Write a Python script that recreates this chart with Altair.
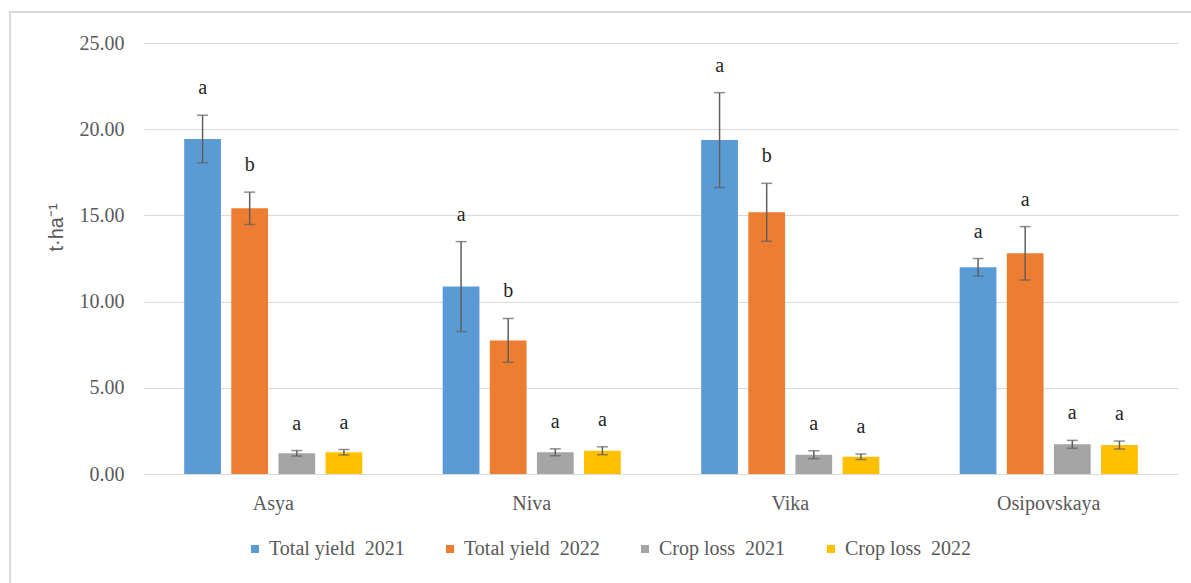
import altair as alt
import pandas as pd

varieties = ["Asya", "Niva", "Vika", "Osipovskaya"]
series = ["Total yield\u00a0 2021", "Total yield\u00a0 2022", "Crop loss\u00a0 2021", "Crop loss\u00a0 2022"]
colors = ["#5B9BD5", "#ED7D31", "#A5A5A5", "#FFC000"]

total_2021 = [19.43, 10.87, 19.37, 11.99]
total_2021_err = [1.38, 2.61, 2.75, 0.51]
total_2022 = [15.41, 7.75, 15.18, 12.80]
total_2022_err = [0.94, 1.27, 1.68, 1.55]
loss_2021 = [1.20, 1.26, 1.12, 1.72]
loss_2021_err = [0.16, 0.20, 0.23, 0.23]
loss_2022 = [1.26, 1.35, 1.00, 1.68]
loss_2022_err = [0.16, 0.23, 0.16, 0.23]

letters_total_2021 = ["a", "a", "a", "a"]
letters_total_2022 = ["b", "b", "b", "a"]
letters_loss_2021 = ["a", "a", "a", "a"]
letters_loss_2022 = ["a", "a", "a", "a"]

y_ticks = [0, 5, 10, 15, 20, 25]

means = [total_2021, total_2022, loss_2021, loss_2022]
errs = [total_2021_err, total_2022_err, loss_2021_err, loss_2022_err]
letters = [letters_total_2021, letters_total_2022, letters_loss_2021, letters_loss_2022]

rows = []
for s, m, e, l in zip(series, means, errs, letters):
    for v, mv, ev, lv in zip(varieties, m, e, l):
        rows.append({"variety": v, "series": s, "value": mv, "lo": mv - ev, "hi": mv + ev, "letter": lv})
df = pd.DataFrame(rows)

serif = "Liberation Serif"
grey_txt = "#595959"

x_enc = alt.X(
    "variety:N", sort=varieties,
    scale=alt.Scale(paddingInner=0, paddingOuter=0),
    axis=alt.Axis(title=None, labelAngle=0, ticks=False, domain=False, grid=False,
                  labelFont=serif, labelFontSize=20, labelColor=grey_txt, labelPadding=19),
)
xoff_enc = alt.XOffset("series:N", sort=series,
                       scale=alt.Scale(domain=series, paddingInner=0.22, paddingOuter=0.853))

y_axis = alt.Axis(
    values=y_ticks, format=".2f", title="t·ha⁻¹", domain=False, ticks=False,
    labelFont=serif, labelFontSize=20, labelColor=grey_txt, labelPadding=20,
    gridColor="#D9D9D9", gridWidth=1,
    titleFont="Liberation Sans", titleFontSize=20, titleFontWeight="normal", titleColor=grey_txt,
    titleX=-82, titleY=184, titleBaseline="alphabetic", titleAngle=270,
)
y_scale = alt.Scale(domain=[0, 25], nice=False)

base = alt.Chart(df)

bars = base.mark_bar().encode(
    x=x_enc, xOffset=xoff_enc,
    y=alt.Y("value:Q", scale=y_scale, axis=y_axis),
    color=alt.Color(
        "series:N", sort=series,
        scale=alt.Scale(domain=series, range=colors),
        legend=alt.Legend(
            title=None, orient="none", legendX=101, legendY=496, direction="horizontal",
            columns=4, symbolType="square", symbolSize=64, symbolStrokeWidth=0,
            labelFont=serif, labelFontSize=20, labelColor=grey_txt,
            columnPadding=35, labelOffset=4, padding=0,
        ),
    ),
)

err_color = "#5F5F5F"
rules = base.mark_rule(color=err_color, strokeWidth=1.5).encode(
    x=x_enc, xOffset=xoff_enc,
    y=alt.Y("lo:Q", scale=y_scale, axis=y_axis), y2="hi:Q",
)
cap_hi = base.mark_tick(color=err_color, thickness=1.5, size=11).encode(
    x=x_enc, xOffset=xoff_enc, y=alt.Y("hi:Q", scale=y_scale, axis=y_axis),
)
cap_lo = base.mark_tick(color=err_color, thickness=1.5, size=11).encode(
    x=x_enc, xOffset=xoff_enc, y=alt.Y("lo:Q", scale=y_scale, axis=y_axis),
)
labels = base.mark_text(font=serif, fontSize=20, color="#262626", baseline="middle", dy=-27).encode(
    x=x_enc, xOffset=xoff_enc, y=alt.Y("hi:Q", scale=y_scale, axis=y_axis), text="letter:N",
)

border = alt.Chart(alt.Data(values=[{}])).mark_rect(
    fill=None, stroke="#D9D9D9", strokeWidth=2
).encode(x=alt.value(-134), x2=alt.value(1080), y=alt.value(-31), y2=alt.value(560))

chart = alt.layer(border, bars, rules, cap_hi, cap_lo, labels).properties(
    width=1034, height=431,
    autosize=alt.AutoSizeParams(type="none"),
    padding={"left": 144, "top": 43, "right": 13, "bottom": 109},
    background="white",
).configure_view(stroke=None)

chart.save("out.html", embed_options={"renderer": "svg", "actions": False})
